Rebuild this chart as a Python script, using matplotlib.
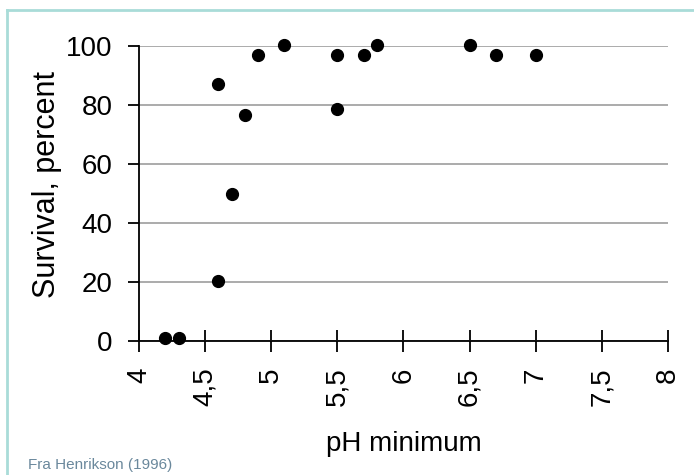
import matplotlib
matplotlib.use("Agg")
from matplotlib import pyplot as plt
from matplotlib.lines import Line2D

# data
ph_min = [4.2, 4.3, 4.6, 4.6, 4.7, 4.8, 4.9, 5.1, 5.5, 5.5, 5.7, 5.8, 6.5, 6.7, 7.0]
survival = [1, 1, 87, 20.5, 50, 76.5, 97, 100.5, 97, 78.5, 97, 100.5, 100.5, 97, 97]
xticks = [4, 4.5, 5, 5.5, 6, 6.5, 7, 7.5, 8]
xlabels = ["4", "4,5", "5", "5,5", "6", "6,5", "7", "7,5", "8"]
yticks = [0, 20, 40, 60, 80, 100]

plt.rcParams['font.family'] = ['Liberation Sans', 'DejaVu Sans']

fig = plt.figure(figsize=(6.94, 4.75), dpi=100)
ax = fig.add_axes([0.2003, 0.282, 0.7622, 0.621])

ax.plot(ph_min, survival, 'o', color='black', markersize=8.5, clip_on=False, zorder=5)

ax.set_xlim(4, 8)
ax.set_ylim(0, 100)
ax.set_xticks(xticks)
ax.set_xticklabels(xlabels, rotation=90)
ax.set_yticks(yticks)

for s in ['top', 'right']:
	ax.spines[s].set_visible(False)
ax.spines['left'].set_linewidth(1.3)
ax.spines['bottom'].set_linewidth(1.3)

ax.yaxis.grid(True, color='#ababab', linewidth=1.4)
ax.set_axisbelow(True)

ax.tick_params(axis='x', direction='inout', length=16, width=1.3, labelsize=20, pad=11)
ax.tick_params(axis='y', direction='out', length=8, width=1.3, labelsize=20, pad=11)

ax.set_xlabel("pH minimum", fontsize=20, labelpad=18)
ax.set_ylabel("Survival, percent", fontsize=22)
ax.yaxis.set_label_coords(-0.146, 0.53)

fig.text(0.04, 0.012, "Fra Henrikson (1996)", fontsize=11, color='#6a889c')

# light frame round the picture
fig.add_artist(Line2D([7/694, 7/694], [0, 1 - 10/475], color='#a9dcd8', linewidth=2, transform=fig.transFigure))
fig.add_artist(Line2D([7/694, 1], [1 - 10/475, 1 - 10/475], color='#a9dcd8', linewidth=2, transform=fig.transFigure))

fig.savefig("out.png", dpi=100)
